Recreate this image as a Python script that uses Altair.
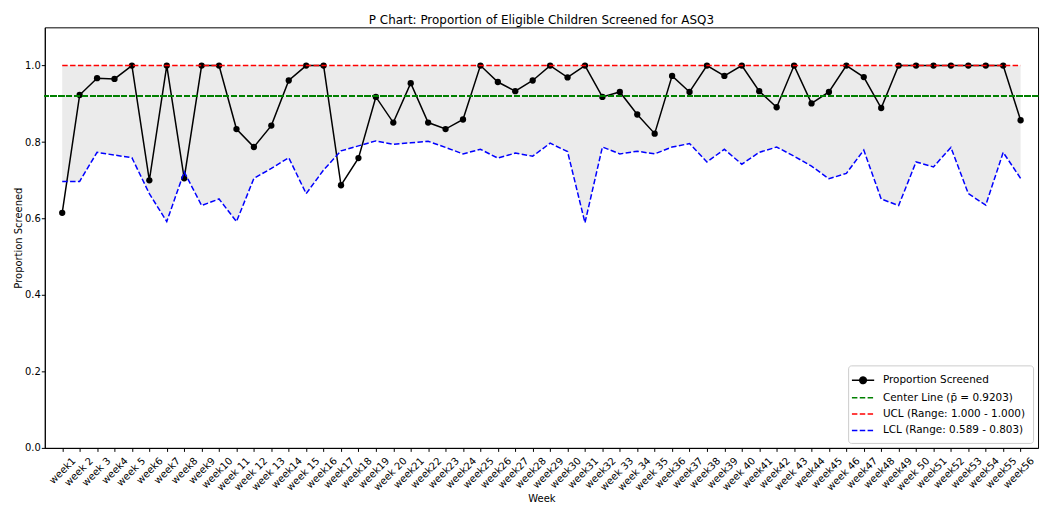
import altair as alt
import pandas as pd

weeks = ["week1", "week 2", "week 3", "week4", "week 5", "week6", "week7", "week8", "week9", "week10",
         "week 11", "week 12", "week 13", "week14", "week 15", "week16", "week17", "week18", "week19", "week 20",
         "week21", "week22", "week23", "week24", "week25", "week26", "week27", "week28", "week29", "week30",
         "week31", "week32", "week 33", "week 34", "week 35", "week36", "week37", "week38", "week39", "week 40",
         "week41", "week42", "week 43", "week44", "week45", "week 46", "week47", "week48", "week49", "week 50",
         "week51", "week52", "week53", "week54", "week55", "week56"]

proportion = [0.615, 0.923, 0.967, 0.965, 1.0, 0.700, 1.0, 0.705, 1.0, 1.0,
              0.834, 0.787, 0.843, 0.961, 1.0, 1.0, 0.687, 0.758, 0.918, 0.851,
              0.954, 0.851, 0.834, 0.859, 1.0, 0.957, 0.933, 0.961, 1.0, 0.969,
              1.0, 0.918, 0.931, 0.872, 0.822, 0.973, 0.931, 1.0, 0.973, 1.0,
              0.933, 0.891, 1.0, 0.901, 0.931, 1.0, 0.970, 0.889, 1.0, 1.0,
              1.0, 1.0, 1.0, 1.0, 1.0, 0.857]

lcl = [0.697, 0.697, 0.773, 0.766, 0.759, 0.665, 0.592, 0.722, 0.634, 0.651,
       0.592, 0.705, 0.731, 0.759, 0.665, 0.727, 0.777, 0.790, 0.803, 0.794,
       0.798, 0.802, 0.786, 0.769, 0.781, 0.758, 0.771, 0.763, 0.797, 0.775,
       0.589, 0.787, 0.769, 0.776, 0.769, 0.787, 0.796, 0.748, 0.781, 0.742,
       0.773, 0.787, 0.763, 0.737, 0.704, 0.718, 0.779, 0.651, 0.634, 0.748,
       0.735, 0.786, 0.665, 0.635, 0.773, 0.705]

ucl = [1.0] * 56
center = 0.9203

y_ticks = [0.0, 0.2, 0.4, 0.6, 0.8, 1.0]

legend_labels = ["Proportion Screened", "Center Line (p\u0304 = 0.9203)",
                 "UCL (Range: 1.000 - 1.000)", "LCL (Range: 0.589 - 0.803)"]
legend_colors = ["black", "#008000", "#ff0000", "#0000ff"]

FONT = "DejaVu Sans"
DASH = [5.5, 2.4]

df = pd.DataFrame({"week": weeks, "prop": proportion, "lcl": lcl, "ucl": ucl})
legend_df = pd.DataFrame({"series": legend_labels,
                          "week": [weeks[0]] * 4,
                          "prop": [proportion[0]] * 4})

X = alt.X("week:N", sort=weeks,
          scale=alt.Scale(type="point", padding=2.75),
          axis=alt.Axis(title="Week", labelAngle=-45, labelAlign="right", labelBaseline="top",
                        labelOffset=8, labelPadding=4,
                        tickSize=3.5, titlePadding=2, labelFontSize=10,
                        titleFontSize=10, labelOverlap=False))


def Y(field):
    return alt.Y(f"{field}:Q", title="Proportion Screened",
                 scale=alt.Scale(domain=[0, 1.1], nice=False, zero=False),
                 axis=alt.Axis(values=y_ticks, format=".1f", tickSize=3.5, labelPadding=1,
                               titlePadding=1, labelFontSize=10, titleFontSize=10))


base = alt.Chart(df)

band = base.mark_area(color="#ebebeb").encode(x=X, y=Y("lcl"), y2="ucl")
line = base.mark_line(color="black", strokeWidth=1.5).encode(x=X, y=Y("prop"))
pts = base.mark_point(filled=True, color="black", size=40, opacity=1).encode(x=X, y=Y("prop"))
center_rule = base.mark_rule(color="#008000", strokeWidth=1.5, strokeDash=DASH).encode(
    y=alt.datum(center))
ucl_line = base.mark_line(color="#ff0000", strokeWidth=1.5, strokeDash=DASH).encode(x=X, y=Y("ucl"))
lcl_line = base.mark_line(color="#0000ff", strokeWidth=1.5, strokeDash=DASH).encode(x=X, y=Y("lcl"))

path_line_marker = "M-1.6,0L1.6,0M-0.47,0A0.47,0.47,0,1,1,0.47,0A0.47,0.47,0,1,1,-0.47,0Z"
path_line = "M-1.6,0L1.6,0"

leg = alt.Legend(title=None, orient="bottom-right", offset=5, symbolSize=196,
                 symbolStrokeWidth=1.5, symbolOpacity=1, labelFontSize=10.5, labelFont=FONT,
                 fillColor="white", strokeColor="#cccccc", cornerRadius=3, padding=7,
                 rowPadding=2.5, labelOffset=12, labelLimit=300)
dom = legend_labels
legend_layer = alt.Chart(legend_df).mark_point(filled=True, size=0, opacity=1).encode(
    x=X, y=Y("prop"),
    fill=alt.Fill("series:N", sort=dom, scale=alt.Scale(domain=dom, range=legend_colors), legend=leg),
    stroke=alt.Stroke("series:N", sort=dom, scale=alt.Scale(domain=dom, range=legend_colors), legend=leg),
    shape=alt.Shape("series:N", sort=dom,
                    scale=alt.Scale(domain=dom, range=[path_line_marker, path_line, path_line, path_line]),
                    legend=leg),
    strokeDash=alt.StrokeDash("series:N", sort=dom,
                              scale=alt.Scale(domain=dom, range=[[1, 0], DASH, DASH, DASH]),
                              legend=leg),
)

chart = alt.layer(band, line, pts, center_rule, ucl_line, lcl_line, legend_layer).properties(
    width=999, height=423,
    title=alt.TitleParams("P Chart: Proportion of Eligible Children Screened for ASQ3",
                          fontSize=12, fontWeight="normal", font=FONT, anchor="middle", offset=0),
).configure(font=FONT).configure_view(stroke="black", strokeWidth=1).configure_axis(
    grid=False, domainColor="black", tickColor="black", labelColor="black", titleColor="black",
    labelFont=FONT, titleFont=FONT, titleFontWeight="normal"
)

chart.save("out.html", embed_options={"renderer": "svg", "actions": False})
